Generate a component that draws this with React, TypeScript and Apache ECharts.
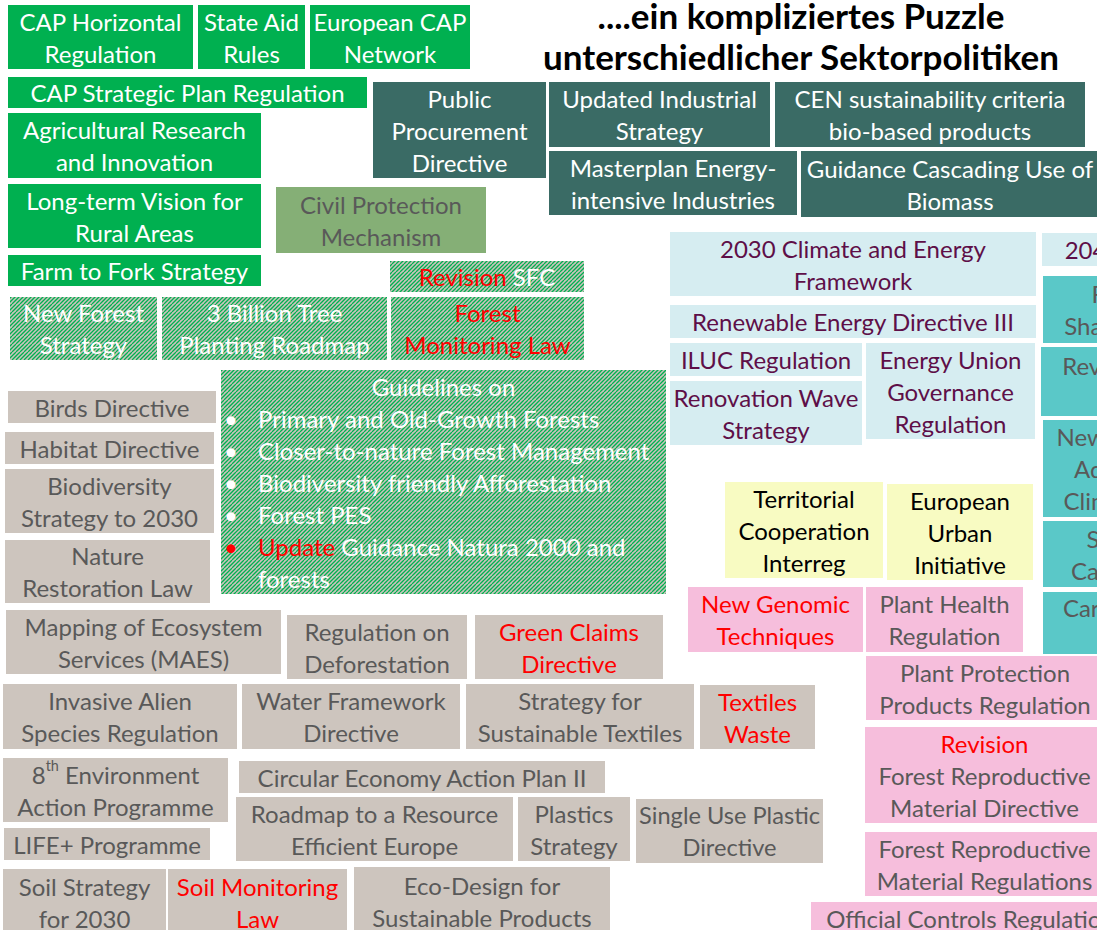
import React, { useEffect, useRef } from 'react';
import * as echarts from 'echarts';

type Box = [number, number, number, number, string];

const titleLines = ['....ein kompliziertes Puzzle', 'unterschiedlicher Sektorpolitiken'];

const agricultureBoxes: Box[] = [
  [8, 5, 193, 69, 'CAP Horizontal\nRegulation'],
  [198, 5, 305, 69, 'State Aid\nRules'],
  [310, 5, 470, 69, 'European CAP\nNetwork'],
  [8, 77, 367, 108, 'CAP Strategic Plan Regulation'],
  [8, 113, 261, 178, 'Agricultural Research\nand Innovation'],
  [8, 184, 261, 248, 'Long-term Vision for\nRural Areas'],
  [8, 255, 261, 286, 'Farm to Fork Strategy'],
];

const industryBoxes: Box[] = [
  [373, 82, 546, 178, 'Public\nProcurement\nDirective'],
  [549, 82, 770, 147, 'Updated Industrial\nStrategy'],
  [775, 82, 1085, 147, 'CEN sustainability criteria\nbio-based products'],
  [549, 151, 797, 215, 'Masterplan Energy-\nintensive Industries'],
  [801, 151, 1099, 217, 'Guidance Cascading Use of\nBiomass'],
];

const civilBoxes: Box[] = [[276, 187, 486, 253, 'Civil Protection\nMechanism']];

const forestBoxes: Box[] = [
  [390, 261, 584, 292, '{r|Revision} SFC'],
  [10, 297, 157, 360, 'New Forest\nStrategy'],
  [162, 297, 387, 360, '3 Billion Tree\nPlanting Roadmap'],
  [391, 297, 584, 360, '{r|Forest}\n{r|Monitoring Law}'],
];

const guidelineBox = [221, 370, 666, 594];
const guidelineTitle = 'Guidelines on';
const guidelineItems = [
  '{b|•}Primary and Old-Growth Forests',
  '{b|•}Closer-to-nature Forest Management',
  '{b|•}Biodiversity friendly Afforestation',
  '{b|•}Forest PES',
  '{rb|•}{r|Update} Guidance Natura 2000 and',
  '{b| }forests',
];

const energyBoxes: Box[] = [
  [670, 232, 1036, 296, '2030 Climate and Energy\nFramework'],
  [1042, 233, 1300, 266, '2040 Climate Target'],
  [670, 305, 1036, 338, 'Renewable Energy Directive III'],
  [670, 343, 862, 376, 'ILUC Regulation'],
  [670, 381, 862, 445, 'Renovation Wave\nStrategy'],
  [866, 343, 1035, 439, 'Energy Union\nGovernance\nRegulation'],
];

const climateBoxes: Box[] = [
  [1043, 276, 1238, 343, 'Fit for 55\nShare of Effort'],
  [1041, 347, 1256, 416, 'Revision EU ETS\nDirective'],
  [1043, 420, 1250, 517, 'New EU Strategy\nAdaptation to\nClimate Change'],
  [1043, 521, 1250, 587, 'Sustainable\nCarbon Cycles'],
  [1043, 592, 1250, 654, 'Carbon Farming\nInitiative'],
];

const regionalBoxes: Box[] = [
  [725, 482, 883, 578, 'Territorial\nCooperation\nInterreg'],
  [887, 484, 1033, 580, 'European\nUrban\nInitiative'],
];

const plantBoxes: Box[] = [
  [688, 587, 863, 652, '{r|New Genomic}\n{r|Techniques}'],
  [866, 587, 1023, 652, 'Plant Health\nRegulation'],
  [866, 656, 1104, 720, 'Plant Protection\nProducts Regulation'],
  [865, 727, 1104, 823, '{r|Revision}\nForest Reproductive\nMaterial Directive'],
  [865, 832, 1104, 896, 'Forest Reproductive\nMaterial Regulations'],
  [811, 902, 1130, 935, 'Official Controls Regulation'],
];

const environmentBoxes: Box[] = [
  [8, 391, 216, 423, 'Birds Directive'],
  [5, 432, 214, 464, 'Habitat Directive'],
  [5, 469, 214, 533, 'Biodiversity\nStrategy to 2030'],
  [5, 540, 210, 603, 'Nature\nRestoration Law'],
  [6, 610, 281, 674, 'Mapping of Ecosystem\nServices (MAES)'],
  [287, 615, 467, 679, 'Regulation on\nDeforestation'],
  [475, 615, 663, 679, '{r|Green Claims}\n{r|Directive}'],
  [3, 684, 237, 749, 'Invasive Alien\nSpecies Regulation'],
  [242, 684, 460, 749, 'Water Framework\nDirective'],
  [466, 684, 694, 749, 'Strategy for\nSustainable Textiles'],
  [700, 685, 815, 749, '{r|Textiles}\n{r|Waste}'],
  [3, 758, 228, 822, '8{s|th} Environment\nAction Programme'],
  [239, 761, 605, 793, 'Circular Economy Action Plan II'],
  [236, 797, 513, 861, 'Roadmap to a Resource\nEfficient Europe'],
  [518, 797, 630, 861, 'Plastics\nStrategy'],
  [636, 799, 823, 863, 'Single Use Plastic\nDirective'],
  [4, 828, 210, 860, 'LIFE+ Programme'],
  [3, 869, 166, 935, 'Soil Strategy\nfor 2030'],
  [168, 869, 347, 935, '{r|Soil Monitoring}\n{r|Law}'],
  [354, 867, 610, 935, 'Eco-Design for\nSustainable Products'],
];

const FONT = 'Lato';
const BASE = 24;
const LINE = 32;
const RED = '#FF0000';

let measureCtx: CanvasRenderingContext2D | null = null;
function textWidth(s: string, size: number, weight = 'normal') {
  if (!measureCtx) measureCtx = document.createElement('canvas').getContext('2d');
  measureCtx!.font = `${weight} ${size}px ${FONT}`;
  return measureCtx!.measureText(s).width;
}
const plain = (s: string) => s.replace(/\{s\|th\}/g, 'tt').replace(/\{[a-z]+\|/g, '').replace(/\}/g, '');

function makeHatch(): string {
  const c = document.createElement('canvas');
  c.width = 8;
  c.height = 8;
  const g = c.getContext('2d')!;
  g.fillStyle = '#CCC4BD';
  g.fillRect(0, 0, 8, 8);
  g.strokeStyle = '#00B050';
  g.lineWidth = 1.25;
  for (let k = -8; k <= 16; k += 4) {
    g.beginPath();
    g.moveTo(k, 8);
    g.lineTo(k + 8, 0);
    g.stroke();
  }
  return c.toDataURL();
}

function boxRenderer(boxes: Box[], fill: any, textColor: string) {
  return (params: any, api: any) => {
    const label = boxes[params.dataIndex][4];
    const p0 = api.coord([api.value(0), api.value(1)]);
    const p1 = api.coord([api.value(2), api.value(3)]);
    const w = p1[0] - p0[0];
    const h = p1[1] - p0[1];
    const lines = label.split('\n');
    const maxW = Math.max(...lines.map((l) => textWidth(plain(l), BASE)));
    const size = Math.min(BASE, (BASE * (w - 6)) / maxW);
    const mk = (extra: any) => ({ fontSize: size, fontFamily: FONT, lineHeight: LINE, fill: textColor, ...extra });
    return {
      type: 'group',
      children: [
        { type: 'rect', shape: { x: p0[0], y: p0[1], width: w, height: h }, style: { fill } },
        {
          type: 'text',
          x: p0[0] + w / 2,
          y: p0[1] + h / 2,
          style: {
            text: label,
            ...mk({}),
            align: 'center',
            verticalAlign: 'middle',
            rich: {
              r: mk({ fill: RED }),
              s: mk({ fontSize: size * 0.6, lineHeight: 27, verticalAlign: 'top' }),
            },
          },
        },
      ],
    };
  };
}

export default function App() {
  const ref = useRef<HTMLDivElement>(null);
  useEffect(() => {
    document.body.style.margin = '0';
    const chart = echarts.init(ref.current!, null, { renderer: 'svg' });
    const hatch = { image: makeHatch(), repeat: 'repeat', imageWidth: 8, imageHeight: 8 };

    const groups: [Box[], any, string][] = [
      [agricultureBoxes, '#00B050', '#FFFFFF'],
      [industryBoxes, '#3A6B65', '#FFFFFF'],
      [civilBoxes, '#85AF76', '#595959'],
      [forestBoxes, hatch, '#FFFFFF'],
      [energyBoxes, '#D6EDF1', '#5E0F48'],
      [climateBoxes, '#5AC8C8', '#595959'],
      [regionalBoxes, '#F8FBC2', '#000000'],
      [plantBoxes, '#F6BEDC', '#595959'],
      [environmentBoxes, '#CDC5BE', '#595959'],
    ];

    const series: any[] = groups.map(([boxes, fill, color]) => ({
      type: 'custom',
      silent: true,
      renderItem: boxRenderer(boxes, fill, color),
      data: boxes.map((b) => [b[0], b[1], b[2], b[3]]),
    }));

    series.push({
      type: 'custom',
      silent: true,
      data: [guidelineBox],
      renderItem: (params: any, api: any) => {
        const p0 = api.coord([api.value(0), api.value(1)]);
        const p1 = api.coord([api.value(2), api.value(3)]);
        const w = p1[0] - p0[0];
        const h = p1[1] - p0[1];
        const tok = (extra: any) => ({ fontSize: BASE, fontFamily: FONT, lineHeight: LINE, fill: '#FFFFFF', ...extra });
        return {
          type: 'group',
          children: [
            { type: 'rect', shape: { x: p0[0], y: p0[1], width: w, height: h }, style: { fill: hatch } },
            {
              type: 'text',
              x: p0[0] + w / 2,
              y: p0[1] + LINE / 2,
              style: { text: guidelineTitle, ...tok({}), align: 'center', verticalAlign: 'middle' },
            },
            {
              type: 'text',
              x: p0[0] + 3,
              y: p0[1] + LINE,
              style: {
                text: guidelineItems.join('\n'),
                ...tok({}),
                align: 'left',
                verticalAlign: 'top',
                rich: {
                  b: tok({ width: 34 }),
                  rb: tok({ width: 34, fill: RED }),
                  r: tok({ fill: RED }),
                },
              },
            },
          ],
        };
      },
    });

    chart.setOption({
      animation: false,
      grid: { left: 0, right: 0, top: 0, bottom: 0 },
      xAxis: { type: 'value', min: 0, max: 1097, show: false },
      yAxis: { type: 'value', min: 0, max: 930, inverse: true, show: false },
      graphic: titleLines.map((t, i) => ({
        type: 'text',
        x: 801,
        y: 15 + i * 41,
        silent: true,
        style: {
          text: t,
          fontSize: 35,
          fontWeight: 'bold',
          fontFamily: FONT,
          fill: '#000000',
          align: 'center',
          verticalAlign: 'middle',
        },
      })),
      series,
    });
    return () => chart.dispose();
  }, []);
  return <div ref={ref} style={{ width: 1097, height: 930 }} />;
}
